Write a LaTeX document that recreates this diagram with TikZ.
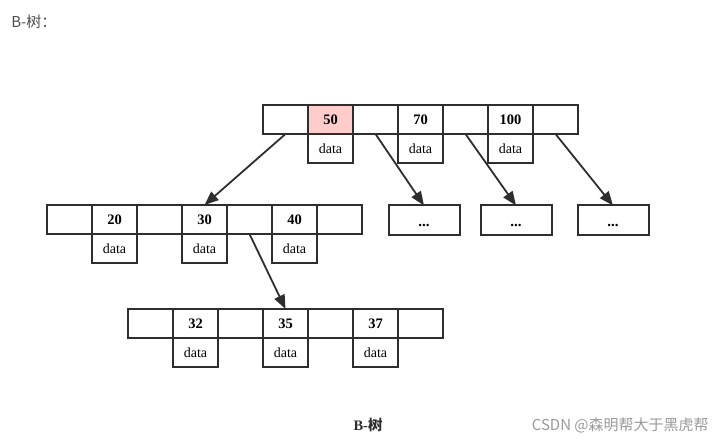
\documentclass[tikz,border=0pt]{standalone}
\usepackage{fontspec}
\setmainfont{Liberation Serif}
\newfontfamily\cjk{Noto Sans CJK SC}
\usetikzlibrary{positioning}
\usetikzlibrary{arrows.meta}
\definecolor{linegray}{HTML}{2E2E2E}
\definecolor{keypink}{HTML}{FFCCCC}
\definecolor{titlegray}{HTML}{4D4D4D}
\definecolor{markgray}{HTML}{999999}
\tikzset{
    node distance=0pt, % cells sit edge to edge
    every node/.style={outer sep=0pt, font=\fontsize{14}{16}\selectfont},
    cell/.style={ % one slot of a B-tree node
        draw=linegray,
        line width=2pt,
        minimum width=45pt,
        minimum height=29pt,
        inner sep=0pt
    },
    key/.style={cell, text height=9.5pt, text depth=0pt,
        font=\fontsize{14.5}{16}\selectfont\bfseries},
    dots/.style={cell, minimum width=71pt, text height=13pt, text depth=0pt,
        font=\fontsize{15}{16}\selectfont\bfseries},
    link/.style={ % pointer to a child node
        draw=linegray,
        line width=1.8pt,
        -{Triangle[length=14pt,width=11pt]}
    }
}
\begin{document}
\begin{tikzpicture}[x=1pt, y=-1pt]
    \useasboundingbox (0,0) rectangle (726,441);

    % root
    \node[cell] (t1) at (285.5,119.5) {};
    \node[key, fill=keypink, right=of t1] (t2) {50};
    \node[cell, right=of t2] (t3) {};
    \node[key, right=of t3] (t4) {70};
    \node[cell, right=of t4] (t5) {};
    \node[key, right=of t5] (t6) {100};
    \node[cell, right=of t6] (t7) {};
    \node[cell, below=of t2] (td2) {data};
    \node[cell, below=of t4] (td4) {data};
    \node[cell, below=of t6] (td6) {data};

    % second level
    \node[cell] (m1) at (69.5,219.5) {};
    \node[key, right=of m1] (m2) {20};
    \node[cell, right=of m2] (m3) {};
    \node[key, right=of m3] (m4) {30};
    \node[cell, right=of m4] (m5) {};
    \node[key, right=of m5] (m6) {40};
    \node[cell, right=of m6] (m7) {};
    \node[cell, below=of m2] (md2) {data};
    \node[cell, below=of m4] (md4) {data};
    \node[cell, below=of m6] (md6) {data};

    \node[dots] (e1) at (424,220) {...};
    \node[dots] (e2) at (516,220) {...};
    \node[dots] (e3) at (613,220) {...};

    % third level
    \node[cell] (b1) at (150.5,323.5) {};
    \node[key, right=of b1] (b2) {32};
    \node[cell, right=of b2] (b3) {};
    \node[key, right=of b3] (b4) {35};
    \node[cell, right=of b4] (b5) {};
    \node[key, right=of b5] (b6) {37};
    \node[cell, right=of b6] (b7) {};
    \node[cell, below=of b2] (bd2) {data};
    \node[cell, below=of b4] (bd4) {data};
    \node[cell, below=of b6] (bd6) {data};

    \draw[link] (t1.south) -- (m4.north);
    \draw[link] (t3.south) -- (e1.north);
    \draw[link] (t5.south) -- (e2.north);
    \draw[link] (t7.south) -- (e3.north);
    \draw[link] (m5.south) -- (b4.north);

    % texts
    \node[anchor=base west, text=titlegray, font=\cjk\fontsize{15}{18}\selectfont] (title) at (8,28) {B-树：};
    \node[anchor=base, text=linegray, font=\fontsize{14.5}{16}\selectfont\bfseries] (caption) at (368,430) {B-{\cjk 树}};
    \node[anchor=base east, text=markgray, font=\cjk\fontsize{15}{16}\selectfont] (mark) at (712,430) {CSDN @森明帮大于黑虎帮};
\end{tikzpicture}
\end{document}
